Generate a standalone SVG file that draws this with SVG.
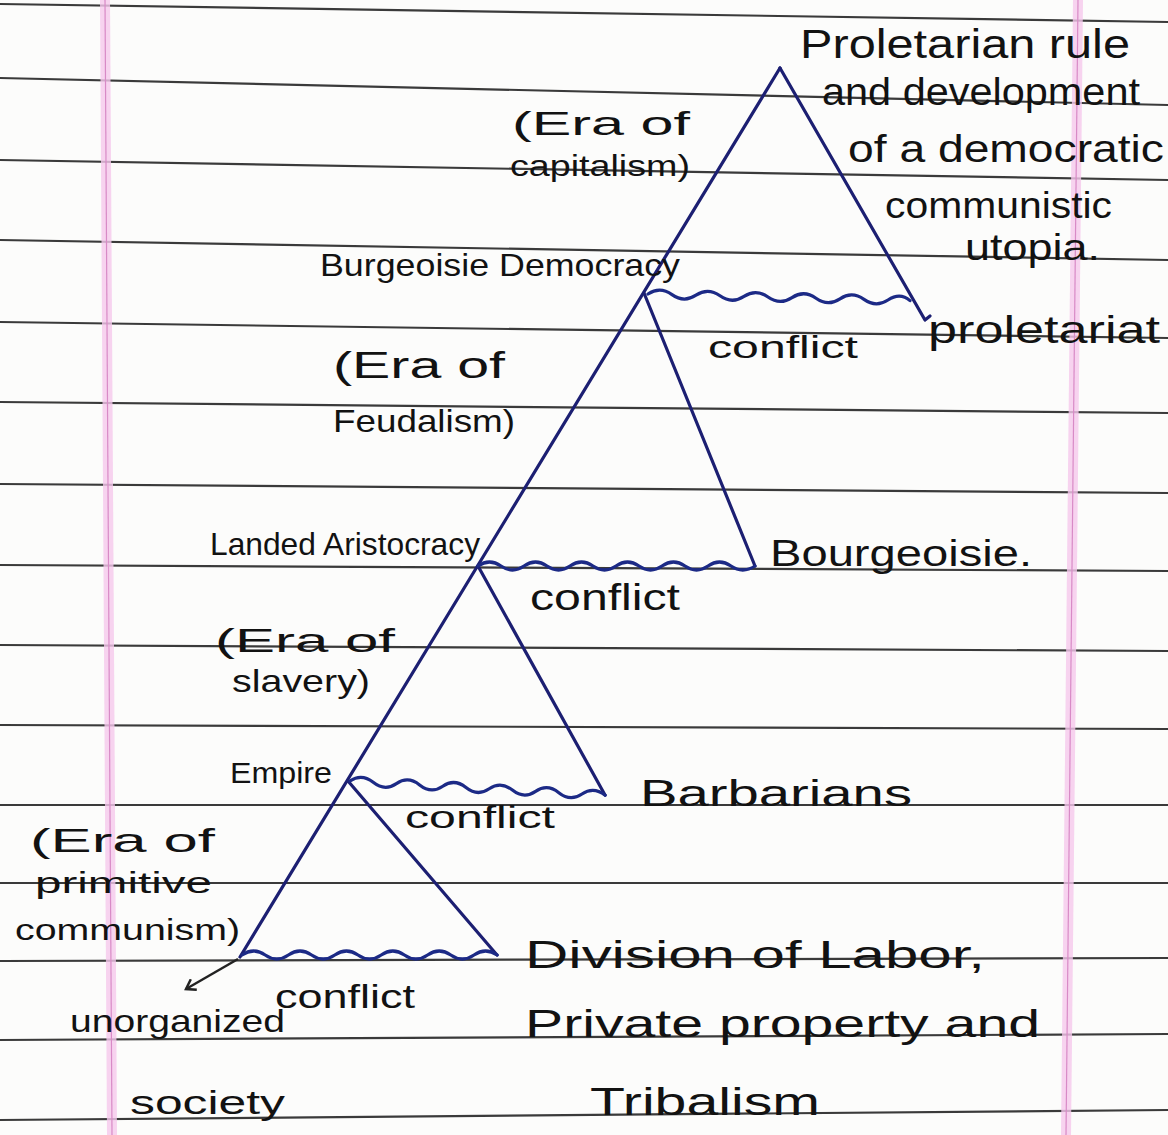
<svg xmlns="http://www.w3.org/2000/svg" width="1168" height="1135" viewBox="0 0 1168 1135">
<style>
.rule{stroke:#3a3a3a;stroke-width:2.2;fill:none}
.ink{fill:#121212;font-family:"Liberation Sans","DejaVu Sans",sans-serif}
.tri{stroke:#1c1f72;stroke-width:3.2;fill:none;stroke-linecap:round;stroke-linejoin:round}
.wave{stroke:#1c2a86;stroke-width:3.2;fill:none;stroke-linecap:round}
.arrow{stroke:#222;stroke-width:2.5;fill:none}
</style>
<defs>
<marker id="head" markerWidth="14" markerHeight="14" refX="10" refY="7" orient="auto" markerUnits="userSpaceOnUse">
<path d="M1,1 L10,7 L1,13" fill="none" stroke="#222" stroke-width="2.5"/>
</marker>
</defs>
<rect width="1168" height="1135" fill="#fcfcfb"/>
<g id="paper">
<g class="rule">
<line x1="0" y1="4" x2="1168" y2="22"/>
<line x1="0" y1="78" x2="1168" y2="105"/>
<line x1="0" y1="160" x2="1168" y2="180"/>
<line x1="0" y1="240" x2="1168" y2="260"/>
<line x1="0" y1="322" x2="1168" y2="338"/>
<line x1="0" y1="402" x2="1168" y2="413"/>
<line x1="0" y1="484" x2="1168" y2="493"/>
<line x1="0" y1="565" x2="1168" y2="571"/>
<line x1="0" y1="645" x2="1168" y2="651"/>
<line x1="0" y1="725" x2="1168" y2="729"/>
<line x1="0" y1="805" x2="1168" y2="805"/>
<line x1="0" y1="883" x2="1168" y2="883"/>
<line x1="0" y1="961" x2="1168" y2="958"/>
<line x1="0" y1="1040" x2="1168" y2="1034"/>
<line x1="0" y1="1120" x2="1168" y2="1110"/>
</g>
<polygon points="100,0 110,0 117,1135 107,1135" fill="#f5c8ec" opacity="0.8"/>
<line x1="105" y1="0" x2="112" y2="1135" stroke="#d88ac6" stroke-width="1.2"/>
<polygon points="1073,0 1083,0 1071,1135 1061,1135" fill="#f5c8ec" opacity="0.8"/>
<line x1="1078" y1="0" x2="1066" y2="1135" stroke="#d88ac6" stroke-width="1.2"/>
</g>
<g id="connectors">
<line class="tri" x1="780" y1="68" x2="240" y2="957"/>
<polyline class="tri" points="780,68 925,320 930,316"/>
<line class="tri" x1="644" y1="293" x2="755" y2="566"/>
<line class="tri" x1="478" y1="566" x2="605" y2="795"/>
<line class="tri" x1="348" y1="781" x2="497" y2="955"/>
<path class="wave" d="M648,294 q12,-8 24,0.6 t24,0.6 t24,0.6 t24,0.6 t24,0.6 t24,0.6 t24,0.6 t24,0.6 t24,0.6 t24,0.6 t22,0.6"/>
<path class="wave" d="M478,566 q11.5,-8 23,0 t23,0 t23,0 t23,0 t23,0 t23,0 t23,0 t23,0 t23,0 t23,0 t23,0 t24,0"/>
<path class="wave" d="M350,781 q11.6,-8 23.2,1.3 t23.2,1.3 t23.2,1.3 t23.2,1.3 t23.2,1.3 t23.2,1.3 t23.2,1.3 t23.2,1.3 t23.2,1.3 t23.2,1.3 t23.2,1.3"/>
<path class="wave" d="M242,955 q11.6,-8 23.2,0 t23.2,0 t23.2,0 t23.2,0 t23.2,0 t23.2,0 t23.2,0 t23.2,0 t23.2,0 t23.2,0 t23.2,0"/>
<line class="arrow" x1="238" y1="959" x2="186" y2="989" marker-end="url(#head)"/>
</g>
<g id="n-proletarian-rule" class="ink">
<text x="800" y="58" font-size="40" textLength="330" lengthAdjust="spacingAndGlyphs">Proletarian rule</text>
<text x="822" y="105" font-size="38" textLength="318" lengthAdjust="spacingAndGlyphs">and development</text>
<text x="848" y="162" font-size="38" textLength="316" lengthAdjust="spacingAndGlyphs">of a democratic</text>
<text x="885" y="218" font-size="36" textLength="227" lengthAdjust="spacingAndGlyphs">communistic</text>
<text x="965" y="260" font-size="36" textLength="135" lengthAdjust="spacingAndGlyphs">utopia.</text>
</g>
<g id="n-era-capitalism" class="ink">
<text x="512" y="135" font-size="34" textLength="178" lengthAdjust="spacingAndGlyphs">(Era of</text>
<text x="510" y="176" font-size="30" textLength="180" lengthAdjust="spacingAndGlyphs">capitalism)</text>
</g>
<g id="n-burgeoisie-democracy" class="ink">
<text x="320" y="276" font-size="32" textLength="360" lengthAdjust="spacingAndGlyphs">Burgeoisie Democracy</text>
</g>
<g id="n-proletariat" class="ink">
<text x="928" y="343" font-size="38" textLength="232" lengthAdjust="spacingAndGlyphs">proletariat</text>
</g>
<g id="n-conflict-1" class="ink">
<text x="708" y="358" font-size="32" textLength="150" lengthAdjust="spacingAndGlyphs">conflict</text>
</g>
<g id="n-era-feudalism" class="ink">
<text x="333" y="378" font-size="36" textLength="172" lengthAdjust="spacingAndGlyphs">(Era of</text>
<text x="333" y="432" font-size="32" textLength="182" lengthAdjust="spacingAndGlyphs">Feudalism)</text>
</g>
<g id="n-landed-aristocracy" class="ink">
<text x="210" y="555" font-size="32" textLength="270" lengthAdjust="spacingAndGlyphs">Landed Aristocracy</text>
</g>
<g id="n-bourgeoisie" class="ink">
<text x="770" y="566" font-size="36" textLength="262" lengthAdjust="spacingAndGlyphs">Bourgeoisie.</text>
</g>
<g id="n-conflict-2" class="ink">
<text x="530" y="610" font-size="36" textLength="150" lengthAdjust="spacingAndGlyphs">conflict</text>
</g>
<g id="n-era-slavery" class="ink">
<text x="215" y="652" font-size="34" textLength="180" lengthAdjust="spacingAndGlyphs">(Era of</text>
<text x="232" y="692" font-size="32" textLength="138" lengthAdjust="spacingAndGlyphs">slavery)</text>
</g>
<g id="n-empire" class="ink">
<text x="230" y="783" font-size="30" textLength="102" lengthAdjust="spacingAndGlyphs">Empire</text>
</g>
<g id="n-barbarians" class="ink">
<text x="640" y="806" font-size="36" textLength="272" lengthAdjust="spacingAndGlyphs">Barbarians</text>
</g>
<g id="n-conflict-3" class="ink">
<text x="405" y="828" font-size="32" textLength="150" lengthAdjust="spacingAndGlyphs">conflict</text>
</g>
<g id="n-era-primitive" class="ink">
<text x="30" y="852" font-size="34" textLength="185" lengthAdjust="spacingAndGlyphs">(Era of</text>
<text x="35" y="893" font-size="30" textLength="177" lengthAdjust="spacingAndGlyphs">primitive</text>
<text x="15" y="940" font-size="30" textLength="225" lengthAdjust="spacingAndGlyphs">communism)</text>
</g>
<g id="n-division-of-labor" class="ink">
<text x="525" y="968" font-size="38" textLength="460" lengthAdjust="spacingAndGlyphs">Division of Labor,</text>
<text x="525" y="1037" font-size="38" textLength="515" lengthAdjust="spacingAndGlyphs">Private property and</text>
<text x="590" y="1115" font-size="38" textLength="230" lengthAdjust="spacingAndGlyphs">Tribalism</text>
</g>
<g id="n-conflict-4" class="ink">
<text x="275" y="1008" font-size="34" textLength="140" lengthAdjust="spacingAndGlyphs">conflict</text>
</g>
<g id="n-unorganized-society" class="ink">
<text x="70" y="1032" font-size="32" textLength="215" lengthAdjust="spacingAndGlyphs">unorganized</text>
<text x="130" y="1114" font-size="34" textLength="155" lengthAdjust="spacingAndGlyphs">society</text>
</g>
</svg>
